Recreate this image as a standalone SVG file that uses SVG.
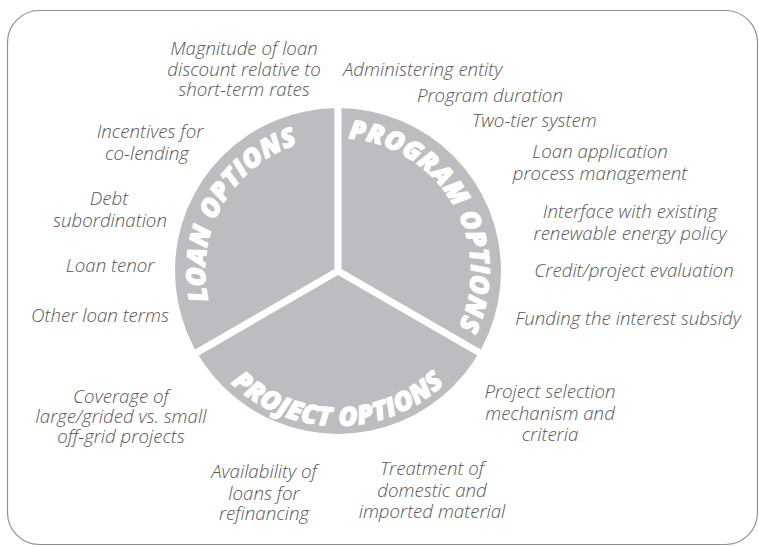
<svg xmlns="http://www.w3.org/2000/svg" width="759" height="546" viewBox="0 0 759 546">
<style>
.lbl{font-family:"Open Sans","Liberation Sans",sans-serif;font-style:italic;font-weight:300;font-size:18.7px;fill:#555659;}
.c{text-anchor:middle;}
.sec{fill:#bcbdc0;}
.div{stroke:#ffffff;stroke-width:7;fill:none;}
.head{font-family:"Open Sans","DejaVu Sans",sans-serif;font-weight:800;font-style:italic;font-size:26px;fill:#ffffff;stroke:#ffffff;stroke-width:1.2px;stroke-linejoin:round;letter-spacing:0.6px;}
</style>
<defs>
<path id="arcLoan" d="M222.8,337.5 A133,133 0 0,1 338,138"/>
<path id="arcProgram" d="M338,138 A133,133 0 0,1 453.2,337.5"/>
<path id="arcProject" d="M203.8,348.5 A155,155 0 0,0 472.2,348.5"/>
</defs>
<rect x="7.5" y="10.5" width="750" height="534" rx="32" ry="32" fill="none" stroke="#8f9093" stroke-width="1.2"/>
<g id="wheel">
<circle class="sec" cx="338" cy="271" r="163"/>
</g>
<g id="connectors">
<line class="div" x1="338" y1="271" x2="338" y2="100"/>
<line class="div" x1="338" y1="271" x2="190" y2="356.5"/>
<line class="div" x1="338" y1="271" x2="486" y2="356.5"/>
</g>
<g id="loan-options">
<text class="head"><textPath href="#arcLoan" startOffset="50%" text-anchor="middle">LOAN OPTIONS</textPath></text>
</g>
<g id="program-options">
<text class="head"><textPath href="#arcProgram" startOffset="50%" text-anchor="middle">PROGRAM OPTIONS</textPath></text>
</g>
<g id="project-options">
<text class="head"><textPath href="#arcProject" startOffset="50%" text-anchor="middle">PROJECT OPTIONS</textPath></text>
</g>
<g id="labels">
<text class="lbl c" x="244" y="55">Magnitude of loan</text>
<text class="lbl c" x="244" y="76">discount relative to</text>
<text class="lbl c" x="244" y="96">short-term rates</text>
<text class="lbl" x="343" y="76">Administering entity</text>
<text class="lbl" x="417" y="102">Program duration</text>
<text class="lbl" x="472" y="127">Two-tier system</text>
<text class="lbl c" x="600" y="158">Loan application</text>
<text class="lbl c" x="600" y="180">process management</text>
<text class="lbl c" x="630" y="218">Interface with existing</text>
<text class="lbl c" x="630" y="240">renewable energy policy</text>
<text class="lbl c" x="634" y="277">Credit/project evaluation</text>
<text class="lbl c" x="628" y="325">Funding the interest subsidy</text>
<text class="lbl c" x="550" y="398">Project selection</text>
<text class="lbl c" x="550" y="420">mechanism and</text>
<text class="lbl c" x="550" y="441">criteria</text>
<text class="lbl c" x="432" y="475">Treatment of</text>
<text class="lbl c" x="432" y="497">domestic and</text>
<text class="lbl c" x="432" y="518">imported material</text>
<text class="lbl c" x="264" y="478">Availability of</text>
<text class="lbl c" x="264" y="500">loans for</text>
<text class="lbl c" x="264" y="520">refinancing</text>
<text class="lbl c" x="121" y="403">Coverage of</text>
<text class="lbl c" x="121" y="423">large/grided vs. small</text>
<text class="lbl c" x="121" y="443">off-grid projects</text>
<text class="lbl c" x="100" y="322">Other loan terms</text>
<text class="lbl c" x="110" y="272">Loan tenor</text>
<text class="lbl c" x="109" y="205">Debt</text>
<text class="lbl c" x="110" y="227">subordination</text>
<text class="lbl c" x="150" y="138">Incentives for</text>
<text class="lbl c" x="147" y="160">co-lending</text>
</g>
</svg>
